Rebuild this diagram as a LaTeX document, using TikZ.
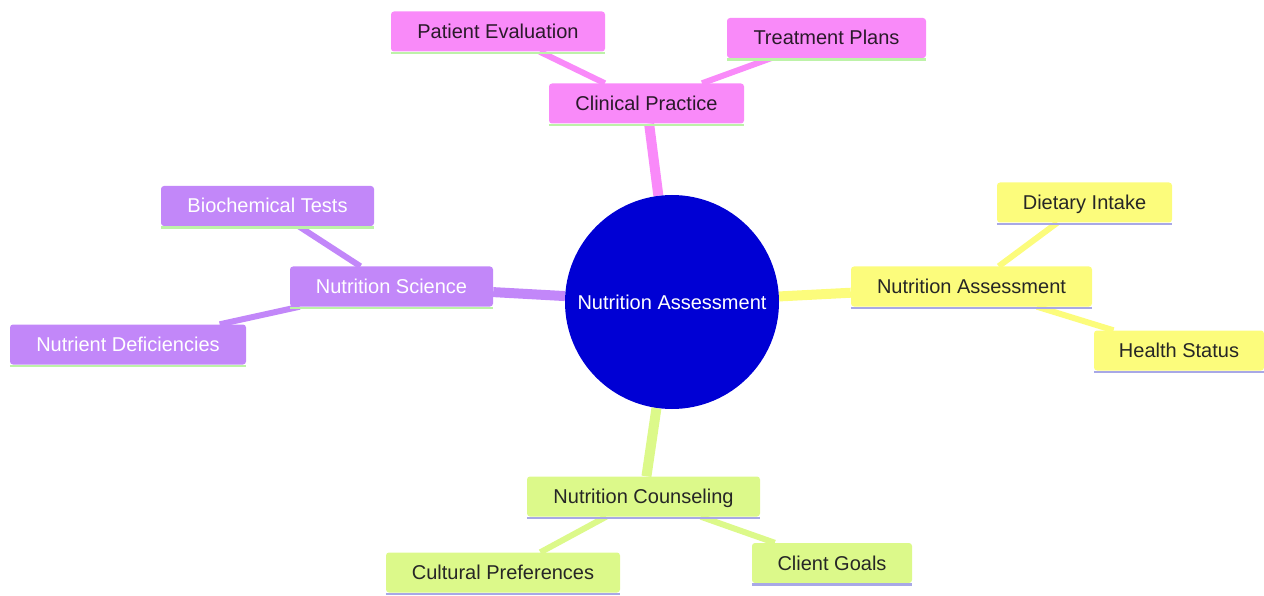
\documentclass[tikz,border=0pt]{standalone}
\usepackage{fontspec}
\setmainfont{Liberation Sans}
\usetikzlibrary{backgrounds}
\definecolor{cpink}{HTML}{F98AF9}
\definecolor{cpurple}{HTML}{C287F9}
\definecolor{cyellow}{HTML}{FCFC7C}
\definecolor{clime}{HTML}{DCF98A}
\definecolor{croot}{HTML}{0000D4}
\definecolor{ulgreen}{HTML}{BDF2A8}
\definecolor{ullav}{HTML}{A8A8E6}
\definecolor{dtext}{HTML}{2A1A2A}
\tikzset{
  box/.style={rectangle, rounded corners=3pt, minimum height=40pt, inner sep=0pt,
    font=\fontsize{20}{24}\selectfont, text height=16pt, text depth=2pt},
  pinkbox/.style={box, fill=cpink, text=dtext},
  purplebox/.style={box, fill=cpurple, text=white},
  yellowbox/.style={box, fill=cyellow, text=black!85},
  limebox/.style={box, fill=clime, text=black!85},
  rootnode/.style={circle, fill=croot, minimum size=214pt, inner sep=0pt, text=white,
    font=\fontsize{20}{24}\selectfont},
  edgeone/.style={line width=10pt},
  edgetwo/.style={line width=6pt},
  ulg/.style={ulgreen, line width=2.5pt},
  ull/.style={ullav, line width=2.5pt},
}
\begin{document}
\begin{tikzpicture}[x=1pt,y=-1pt]
\useasboundingbox (0,0) rectangle (1264,596);
% root
\node[rootnode] (root) at (672,302) {Nutrition Assessment};
% clinical
\node[pinkbox, minimum width=195pt] (cp) at (646.5,103.5) {Clinical Practice};
\node[pinkbox, minimum width=214pt] (pe) at (498,31.5) {Patient Evaluation};
\node[pinkbox, minimum width=199pt] (tp) at (826.5,38) {Treatment Plans};
% science
\node[purplebox, minimum width=203pt] (ns) at (391.5,286.5) {Nutrition Science};
\node[purplebox, minimum width=213pt] (bt) at (267.5,206) {Biochemical Tests};
\node[purplebox, minimum width=236pt] (nd) at (128,344.5) {Nutrient Deficiencies};
% assessment
\node[yellowbox, minimum width=241pt] (na) at (971.5,286.5) {Nutrition Assessment};
\node[yellowbox, minimum width=175pt] (di) at (1084.5,202.5) {Dietary Intake};
\node[yellowbox, minimum width=170pt] (hs) at (1179,350.5) {Health Status};
% counseling
\node[limebox, minimum width=233pt] (nc) at (643.5,496.5) {Nutrition Counseling};
\node[limebox, minimum width=234pt] (cf) at (503,572.5) {Cultural Preferences};
\node[limebox, minimum width=160pt] (cg) at (832,563) {Client Goals};
% underlines
\foreach \n in {cp,pe,tp,ns,bt,nd}
  \draw[ulg] ([yshift=-1.2pt]\n.south west) -- ([yshift=-1.2pt]\n.south east);
\foreach \n in {na,di,hs,nc,cf,cg}
  \draw[ull] ([yshift=-1.2pt]\n.south west) -- ([yshift=-1.2pt]\n.south east);
% edges
\begin{scope}[on background layer]
\draw[edgeone, cpink] (root) -- (cp);
\draw[edgetwo, cpink] (cp) -- (pe);
\draw[edgetwo, cpink] (cp) -- (tp);
\draw[edgeone, cpurple] (root) -- (ns);
\draw[edgetwo, cpurple] (ns) -- (bt);
\draw[edgetwo, cpurple] (ns) -- (nd);
\draw[edgeone, cyellow] (root) -- (na);
\draw[edgetwo, cyellow] (na) -- (di);
\draw[edgetwo, cyellow] (na) -- (hs);
\draw[edgeone, clime] (root) -- (nc);
\draw[edgetwo, clime] (nc) -- (cf);
\draw[edgetwo, clime] (nc) -- (cg);
\end{scope}
\end{tikzpicture}
\end{document}
